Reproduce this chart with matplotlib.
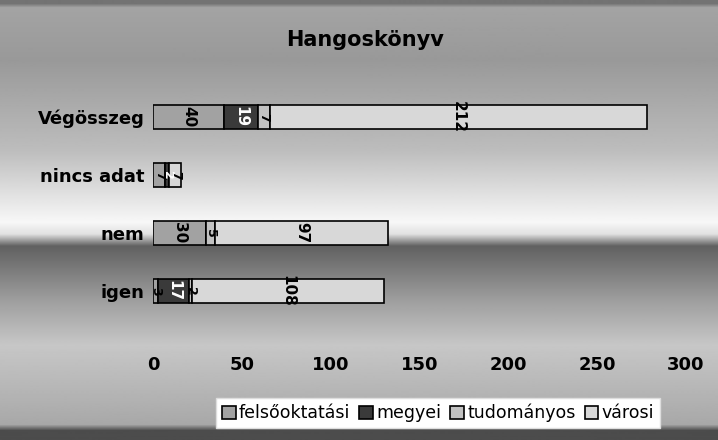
import numpy as np
import matplotlib.pyplot as plt

# adatok
categories = ["igen", "nem", "nincs adat", "Végösszeg"]
series = ["felsőoktatási", "megyei", "tudományos", "városi"]
felsooktatasi = [3, 30, 7, 40]
megyei = [17, 0, 2, 19]
tudomanyos = [2, 5, 0, 7]
varosi = [108, 97, 7, 212]
x_ticks = [0, 50, 100, 150, 200, 250, 300]

values = [felsooktatasi, megyei, tudomanyos, varosi]
colors = ["#a2a2a2", "#3a3a3a", "#c2c2c2", "#d8d8d8"]
label_colors = ["black", "white", "black", "black"]

fig = plt.figure(figsize=(7.18, 4.40), dpi=100)

# háttér színátmenet (pixel sor, szürkeség)
stops_y = [0, 4, 8, 60, 150, 222, 234, 246, 262, 300, 345, 385, 424, 430, 440]
stops_g = [0.45, 0.45, 0.64, 0.60, 0.74, 0.97, 0.88, 0.38, 0.45, 0.62, 0.78, 0.72, 0.66, 0.30, 0.30]
rows = np.interp(np.arange(440), stops_y, stops_g)
bg = fig.add_axes([0, 0, 1, 1], zorder=-1)
bg.imshow(rows[:, None], cmap="gray", vmin=0, vmax=1, aspect="auto",
          extent=[0, 1, 0, 1])
bg.axis("off")

ax = fig.add_axes([153 / 718, 1 - 320 / 440, 533 / 718, 232 / 440])
ax.set_facecolor("none")

y = np.arange(len(categories))
left = np.zeros(len(categories))
handles = []
for i, name in enumerate(series):
    vals = np.array(values[i], dtype=float)
    h = ax.barh(y, vals, left=left, height=0.43, color=colors[i],
                edgecolor="black", linewidth=1.2, label=name)
    handles.append(h)
    for j, v in enumerate(vals):
        if v > 0:
            # keskeny szeletekhez kisebb felirat
            fs = 11 if v >= 10 else 9
            ax.text(left[j] + v / 2, y[j], f"{int(v)}", rotation=270,
                    ha="center", va="center", fontsize=fs, fontweight="bold",
                    color=label_colors[i])
    left += vals

ax.set_xlim(0, 300)
ax.set_ylim(-0.5, 3.5)
ax.set_xticks(x_ticks)
ax.set_xticklabels([str(t) for t in x_ticks], fontsize=13, fontweight="bold")
ax.set_yticks(y)
ax.set_yticklabels(categories, fontsize=13, fontweight="bold")
ax.tick_params(axis="x", length=0, pad=26)
ax.tick_params(axis="y", length=0, pad=6)
for s in ax.spines.values():
    s.set_visible(False)

fig.text(365 / 718, 1 - 40 / 440, "Hangoskönyv", ha="center", va="center",
         fontsize=15, fontweight="bold")

leg = ax.legend(handles=handles, loc="center", ncol=4,
                bbox_to_anchor=(438 / 718, 1 - 413 / 440),
                bbox_transform=fig.transFigure, fontsize=12.5,
                frameon=True, fancybox=False, handlelength=0.8,
                handleheight=0.8, handletextpad=0.2, columnspacing=0.5,
                borderpad=0.35)
leg.get_frame().set_facecolor("white")
leg.get_frame().set_edgecolor("#dddddd")
leg.get_frame().set_alpha(1)

plt.savefig("out.png", dpi=100)
